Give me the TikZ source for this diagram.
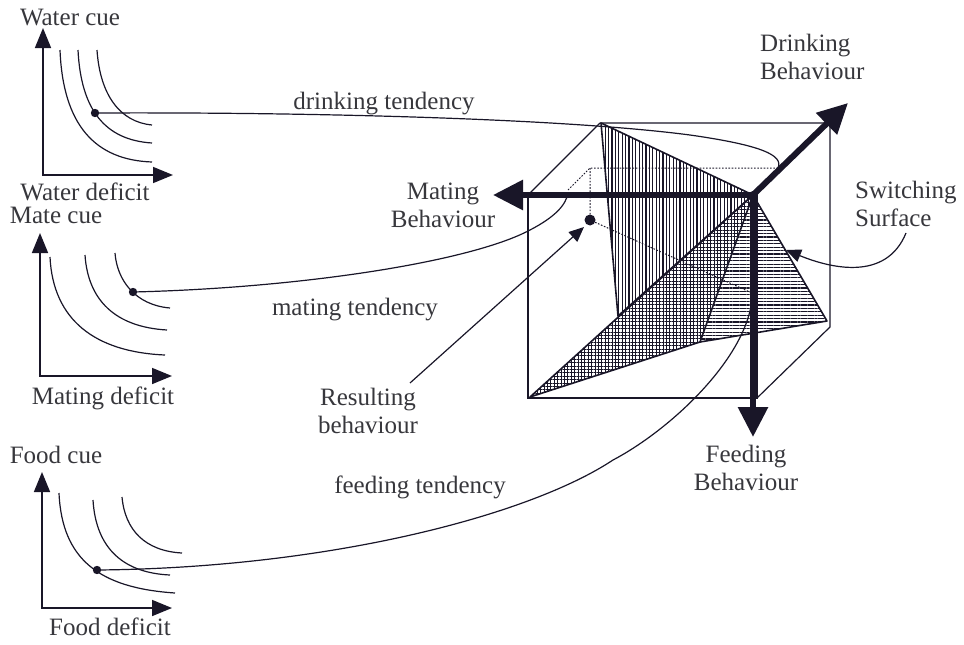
\documentclass[tikz,border=0pt]{standalone}
\usepackage{fontspec}
\setmainfont{Liberation Serif}
\usetikzlibrary{arrows.meta,patterns.meta,calc}
\definecolor{ink}{RGB}{25,22,40}
\definecolor{txt}{RGB}{55,55,60}
\begin{document}
\begin{tikzpicture}[x=1pt,y=-1pt,
  ln/.style={draw=ink, line width=1.2pt},
  axisline/.style={draw=ink, line width=1.6pt, {Triangle[length=20pt,width=16pt]}-{Triangle[length=20pt,width=16pt]}},
  bigarr/.style={draw=ink, line width=6pt, -{Triangle[length=30pt,width=29pt]}},
  smallarr/.style={draw=ink, line width=1.2pt, -{Triangle[length=15pt,width=13pt]}},
  dotline/.style={draw=ink, line width=1pt, dash pattern=on 1.6pt off 1.6pt},
  lbl/.style={font=\fontsize{25}{28}\selectfont, text=txt, inner sep=0pt, anchor=base},
  edge3/.style={draw=ink, line width=1.6pt, line join=round}]
\useasboundingbox (0,0) rectangle (964,645);

% ---------- key points ----------
\coordinate (O) at (753,195);
\coordinate (A) at (601,123);
\coordinate (B) at (618,316);
\coordinate (C) at (530,397);
\coordinate (D) at (700,342);
\coordinate (E) at (827,321);
\coordinate (matTip) at (493,195);
\coordinate (drTip) at (848,103);
\coordinate (feTip) at (753,437);
\coordinate (P) at (590,168);
\coordinate (Pd) at (778,168);
\coordinate (Pm) at (568,190);
\coordinate (Pf) at (752,293);
\coordinate (rdot) at (590,220);
\coordinate (rtip) at (584,227);
\coordinate (mEnd) at (568,193);
\coordinate (fEnd) at (752,300);

% ---------- cube ----------
\draw[ln] (528,195) rectangle (757,398);
\draw[ln] (600,123) -- (830,123) -- (830,327) -- (757,398);
\draw[ln] (528,195) -- (600,123);

% ---------- projection lines ----------
\draw[dotline] (Pm) -- (P) -- (Pd);
\draw[dotline] (P) -- (rdot) -- (Pf);

% ---------- switching surface ----------
\fill[pattern={Hatch[angle=0,distance=3.4pt,line width=1pt]}, pattern color=ink] (C) -- (O) -- (D) -- cycle;
\fill[pattern={Lines[angle=90,distance=3.4pt,line width=1.1pt]}, pattern color=ink] (A) -- (O) -- (B) -- cycle;
\fill[pattern={Lines[angle=0,distance=3.4pt,line width=1.1pt]}, pattern color=ink] (O) -- (E) -- (D) -- cycle;
\draw[edge3] (A) -- (O) -- (B) -- cycle;
\draw[edge3] (C) -- (O) -- (D) -- cycle;
\draw[edge3] (O) -- (E) -- (D);

% ---------- graphs ----------
% water
\coordinate (wo) at (43,175);
\coordinate (wyt) at (43,28);
\coordinate (wxt) at (173,175);
\draw[axisline] (wyt) -- (wo) -- (wxt);
\draw[ln] (60,50) .. controls (63,125) and (95,160) .. (152,162);
\draw[ln] (78,50) .. controls (81,110) and (105,140) .. (152,143);
\draw[ln] (97,50) .. controls (100,95) and (120,122) .. (152,125);
\coordinate (wdot) at (95,113);
% mate
\coordinate (mo) at (40,376);
\coordinate (myt) at (40,233);
\coordinate (mxt) at (172,376);
\draw[axisline] (myt) -- (mo) -- (mxt);
\draw[ln] (50,257) .. controls (53,320) and (95,352) .. (165,355);
\draw[ln] (85,255) .. controls (88,300) and (115,327) .. (167,330);
\draw[ln] (115,253) .. controls (117,280) and (135,305) .. (170,308);
\coordinate (mdot) at (133,292);
% food
\coordinate (fo) at (42,608);
\coordinate (fyt) at (42,472);
\coordinate (fxt) at (172,608);
\draw[axisline] (fyt) -- (fo) -- (fxt);
\draw[ln] (59,493) .. controls (62,560) and (100,588) .. (175,593);
\draw[ln] (93,500) .. controls (96,550) and (125,573) .. (170,575);
\draw[ln] (122,497) .. controls (125,530) and (145,551) .. (182,553);
\coordinate (fdot) at (97,570);

% ---------- tendency curves ----------
\draw[ln] (wdot) .. controls (300,112) and (560,118) .. (690,135) .. controls (760,145) and (784,155) .. (Pd);
\draw[ln] (mdot) .. controls (300,288) and (470,262) .. (530,230) .. controls (555,217) and (566,205) .. (mEnd);
\draw[ln] (fdot) .. controls (330,568) and (530,515) .. (613,460) .. controls (670,430) and (745,360) .. (fEnd);
\fill[ink] (wdot) circle (4.2);
\fill[ink] (mdot) circle (4.2);
\fill[ink] (fdot) circle (4.2);

% ---------- behaviour axes ----------
\draw[bigarr] (O) -- (matTip);
\draw[bigarr] (O) -- (drTip);
\draw[bigarr] (O) -- (feTip);
\fill[ink] (O) circle (4);

% ---------- resulting behaviour ----------
\fill[ink] (rdot) circle (5.5);

% ---------- labels ----------
\node[lbl] (wcue) at (70,25) {Water cue};
\node[lbl] (wdef) at (85,200) {Water deficit};
\node[lbl] (mcue) at (56,223) {Mate cue};
\node[lbl] (mdef) at (103,404) {Mating deficit};
\node[lbl] (fcue) at (56,463) {Food cue};
\node[lbl] (fdef) at (110,635) {Food deficit};
\node[lbl] (dten) at (384,109) {drinking tendency};
\node[lbl] (mten) at (355,315) {mating tendency};
\node[lbl] (ften) at (420,493) {feeding tendency};
\node[lbl, align=center] (res) at (368,433) {Resulting\\behaviour};
\node[lbl, align=center] (matb) at (443,227) {Mating\\Behaviour};
\node[lbl, align=left, anchor=base west] (drib) at (760,79) {Drinking\\Behaviour};
\node[lbl, align=left, anchor=base west] (swi) at (855,226) {Switching\\Surface};
\node[lbl, align=center] (feeb) at (746,490) {Feeding\\Behaviour};

% ---------- pointers ----------
\coordinate (resStart) at (410,383);
\draw[smallarr] (resStart) -- (rtip);
\coordinate (swStart) at (906,233);
\coordinate (swTip) at (786,250);
\draw[smallarr] (swStart) .. controls (886,282) and (830,268) .. (swTip);
\end{tikzpicture}
\end{document}
